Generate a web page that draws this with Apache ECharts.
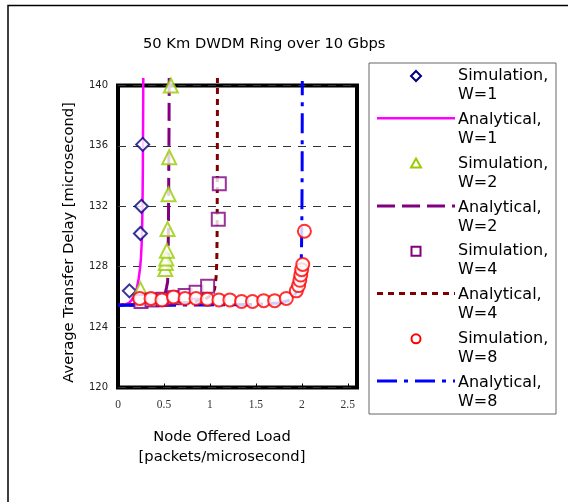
<!DOCTYPE html>
<html>
<head>
<meta charset="utf-8">
<script src="https://cdn.jsdelivr.net/npm/echarts@6/dist/echarts.min.js"></script>
<style>html,body{margin:0;padding:0;background:#fff;}#c{width:568px;height:502px;}</style>
</head>
<body>
<div id="c"></div>
<script>
// ---- Data ----
var titleText = '50 Km DWDM Ring over 10 Gbps';
var xTitle = ['Node Offered Load', '[packets/microsecond]'];
var yTitle = 'Average Transfer Delay [microsecond]';
var legendNames = [
  'Simulation,\nW=1', 'Analytical,\nW=1',
  'Simulation,\nW=2', 'Analytical,\nW=2',
  'Simulation,\nW=4', 'Analytical,\nW=4',
  'Simulation,\nW=8', 'Analytical,\nW=8'
];
var xTicks = [0, 0.5, 1, 1.5, 2, 2.5];
var yTicks = [120, 124, 128, 132, 136, 140];

var simW1 = [[0.124,126.4],[0.244,130.2],[0.254,132.0],[0.269,136.1]];
var anaW1 = [[0,125.45],[0.08,125.5],[0.12,125.6],[0.15,125.8],[0.18,126.15],[0.205,126.6],[0.225,127.2],[0.24,127.9],[0.25,128.6],[0.258,129.6],[0.263,130.8],[0.267,132.3],[0.27,134.2],[0.272,136.5],[0.274,138.8],[0.275,140.5]];
var simW2 = [[0.244,126.5],[0.514,127.85],[0.52,128.25],[0.525,128.55],[0.532,129.05],[0.539,130.5],[0.55,132.8],[0.557,135.25],[0.575,140.0]];
var anaW2 = [[0,125.45],[0.25,125.5],[0.4,125.6],[0.47,125.75],[0.5,125.95],[0.515,126.25],[0.527,126.6],[0.54,127.0],[0.545,128.5],[0.549,131.0],[0.552,134.0],[0.555,137.0],[0.557,140.5]];
var simW4 = [[0.25,125.7],[0.37,125.8],[0.49,125.85],[0.61,125.95],[0.73,126.1],[0.85,126.3],[0.975,126.7],[1.091,131.15],[1.102,133.5]];
var anaW4 = [[0,125.45],[0.5,125.5],[0.8,125.65],[0.95,125.85],[1.02,126.15],[1.05,126.5],[1.06,126.9],[1.07,127.5],[1.075,128.5],[1.078,130.0],[1.08,133.0],[1.081,136.5],[1.082,140.5]];
var simW8 = [[0.236,125.9],[0.359,125.9],[0.478,125.8],[0.604,126.0],[0.73,125.9],[0.849,125.9],[0.972,125.85],[1.098,125.8],[1.217,125.8],[1.344,125.7],[1.463,125.7],[1.585,125.75],[1.704,125.75],[1.831,125.9],[1.94,126.4],[1.965,126.75],[1.978,127.1],[1.988,127.45],[1.998,127.8],[2.01,128.15],[2.028,130.35]];
var anaW8 = [[0,125.45],[0.5,125.45],[1.0,125.47],[1.5,125.5],[1.75,125.6],[1.85,125.75],[1.9,125.95],[1.93,126.2],[1.96,126.6],[1.98,127.2],[1.99,127.9],[1.996,129.0],[2.0,131.0],[2.003,134.0],[2.004,137.0],[2.005,140.3]];

// ---- Styles ----
var C = {
  w1s: '#000080', w1a: '#FF00FF',
  w2s: '#99CC00', w2a: '#800080',
  w4s: '#800080', w4a: '#800000',
  w8s: '#FF0000', w8a: '#0000FF'
};
var FONT = 'DejaVu Sans';

function scatter(name, data, symbol, size, color, z) {
  return {
    name: name, type: 'scatter', data: data, symbol: symbol, symbolSize: size,
    clip: false, z: z,
    itemStyle: { color: '#fff', borderColor: color, borderWidth: 2 }
  };
}
function line(name, data, color, width, dash, z) {
  return {
    name: name, type: 'line', data: data, showSymbol: false, symbol: 'none',
    clip: false, z: z, smooth: false,
    lineStyle: { color: color, width: width, type: dash }
  };
}

// ---- Legend (drawn as graphic) ----
var legendLeft = 369, legendTop = 63, legendW = 187, legendH = 351;
var legY0 = 76, legStep = 43.8, legLH = 19;
var legendKinds = [
  { sym: 'diamond', color: C.w1s },
  { line: [], color: C.w1a, width: 2.5 },
  { sym: 'triangle', color: C.w2s },
  { line: [18, 7], color: C.w2a, width: 3 },
  { sym: 'rect', color: C.w4s },
  { line: [6, 5], color: C.w4a, width: 3 },
  { sym: 'circle', color: C.w8s },
  { line: [20, 7, 4, 7], color: C.w8a, width: 3 }
];
var legendChildren = [{
  type: 'rect', shape: { x: legendLeft, y: legendTop, width: legendW, height: legendH },
  style: { fill: '#fff', stroke: '#666', lineWidth: 1 }
}];
legendKinds.forEach(function (k, i) {
  var cy = legY0 + legStep * i;
  var cx = 416;
  legendChildren.push({
    type: 'text', x: 458, y: cy - legLH / 2,
    style: { text: legendNames[i], font: '16px "' + FONT + '"', fill: '#000', lineHeight: legLH, verticalAlign: 'top', align: 'left' }
  });
  if (k.line) {
    legendChildren.push({
      type: 'line', shape: { x1: 377, y1: cy - 1.5, x2: 455, y2: cy - 1.5 },
      style: { stroke: k.color, lineWidth: k.width, lineDash: k.line.length ? k.line : null }
    });
  } else {
    var r = 5;
    var st = { fill: '#fff', stroke: k.color, lineWidth: 2 };
    if (k.sym === 'diamond') {
      legendChildren.push({ type: 'polygon', shape: { points: [[cx, cy - r], [cx + r, cy], [cx, cy + r], [cx - r, cy]] }, style: st });
    } else if (k.sym === 'triangle') {
      legendChildren.push({ type: 'polygon', shape: { points: [[cx, cy - r], [cx + r, cy + r - 1], [cx - r, cy + r - 1]] }, style: st });
    } else if (k.sym === 'rect') {
      legendChildren.push({ type: 'rect', shape: { x: cx - r + 0.5, y: cy - r + 0.5, width: 2 * r - 1, height: 2 * r - 1 }, style: st });
    } else {
      legendChildren.push({ type: 'circle', shape: { cx: cx, cy: cy, r: r - 0.5 }, style: st });
    }
  }
});

var chart = echarts.init(document.getElementById('c'), null, { renderer: 'canvas' });
chart.setOption({
  animation: false,
  backgroundColor: '#fff',
  title: {
    text: titleText, left: 143, top: 37, padding: 0,
    textStyle: { fontFamily: FONT, fontSize: 14.7, fontWeight: 'normal', color: '#000' }
  },
  grid: {
    left: 118, top: 85.5, width: 239, height: 302,
    show: true, borderColor: '#000', borderWidth: 4, backgroundColor: 'transparent'
  },
  xAxis: {
    type: 'value', min: xTicks[0], max: 2.6, interval: 0.5,
    axisLine: { show: false },
    axisTick: { show: true, inside: true, length: 4, lineStyle: { color: '#000', width: 1 } },
    axisLabel: {
      fontFamily: 'Liberation Serif', fontSize: 11.5, color: '#333', margin: 11,
      formatter: function (v) {
        for (var i = 0; i < xTicks.length; i++) if (Math.abs(xTicks[i] - v) < 1e-6) return String(xTicks[i]);
        return '';
      }
    },
    splitLine: { show: false }
  },
  yAxis: {
    type: 'value', min: yTicks[0], max: yTicks[yTicks.length - 1], interval: 4,
    axisLine: { show: false }, axisTick: { show: false },
    axisLabel: { fontFamily: FONT, fontSize: 10, color: '#222', margin: 10 },
    splitLine: { show: true, lineStyle: { color: '#333', width: 1, type: [8, 7] } }
  },
  graphic: [
    { type: 'rect', shape: { x: 8, y: 5.5, width: 700, height: 700 }, style: { fill: 'none', stroke: '#000', lineWidth: 1.5 }, z: -10, silent: true },
    { type: 'text', x: 222, y: 437, style: { text: xTitle[0], font: '14.7px "' + FONT + '"', fill: '#000', align: 'center', verticalAlign: 'middle' } },
    { type: 'text', x: 222, y: 457, style: { text: xTitle[1], font: '14.7px "' + FONT + '"', fill: '#000', align: 'center', verticalAlign: 'middle' } },
    { type: 'text', x: 69, y: 242.5, rotation: Math.PI / 2, style: { text: yTitle, font: '14.7px "' + FONT + '"', fill: '#000', align: 'center', verticalAlign: 'middle' } },
    { type: 'group', children: legendChildren }
  ],
  series: [
    line(legendNames[1], anaW1, C.w1a, 2.5, 'solid', 2),
    line(legendNames[3], anaW2, C.w2a, 3, [18, 7], 2),
    line(legendNames[5], anaW4, C.w4a, 3, [6, 5], 2),
    line(legendNames[7], anaW8, C.w8a, 3, [20, 7, 4, 7], 2),
    scatter(legendNames[0], simW1, 'diamond', 13, C.w1s, 3),
    scatter(legendNames[2], simW2, 'triangle', 14, C.w2s, 3),
    scatter(legendNames[4], simW4, 'rect', 13, C.w4s, 3),
    scatter(legendNames[6], simW8, 'circle', 13, C.w8s, 4)
  ]
});
</script>
</body>
</html>
